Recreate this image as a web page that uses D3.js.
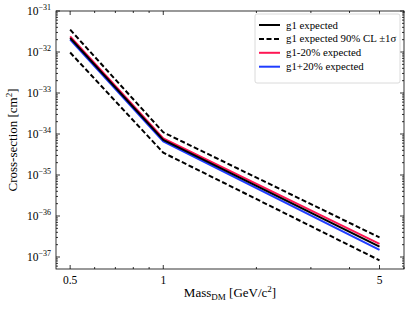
<!DOCTYPE html>
<html>
<head>
<meta charset="utf-8">
<script src="https://cdn.jsdelivr.net/npm/d3@7"></script>
<style>
body { margin: 0; background: #fff; }
text { font-family: "Liberation Serif", "DejaVu Serif", serif; fill: #000; }
</style>
</head>
<body>
<svg id="chart" width="411" height="309"></svg>
<script>
var masses = [0.5, 1, 5];
var g1Expected = [2.2e-32, 7.2e-35, 1.8e-37];
var g1Upper = [3.5e-32, 1.1e-34, 3.0e-37];
var g1Lower = [9.7e-33, 3.5e-35, 8.3e-38];
var g1Minus20 = [2.4e-32, 7.8e-35, 2.1e-37];
var g1Plus20 = [2.0e-32, 6.6e-35, 1.5e-37];
var xTicks = [0.5, 1, 5];
var yTicks = [-31, -32, -33, -34, -35, -36, -37];

var svg = d3.select("#chart");
var plotLeft = 56, plotRight = 404, plotTop = 11, plotBottom = 269;

var x = d3.scaleLog().domain([0.45, 6.0]).range([plotLeft, plotRight]);
var y = d3.scaleLog().domain([5.1e-38, 1e-31]).range([plotBottom, plotTop]);

// minor ticks
var xMinor = [0.6, 0.7, 0.8, 0.9, 2, 3, 4, 6];
var yMinor = [];
for (var e = -38; e < -31; e++) {
	for (var k = 2; k < 10; k++) {
		var v = k * Math.pow(10, e);
		if (v >= 5.1e-38 && v <= 1e-31) yMinor.push(v);
	}
}

var ticks = svg.append("g").attr("stroke", "#000").attr("stroke-width", 0.8);
xTicks.forEach(function(t) {
	ticks.append("line").attr("x1", x(t)).attr("x2", x(t)).attr("y1", plotBottom).attr("y2", plotBottom - 4);
	ticks.append("line").attr("x1", x(t)).attr("x2", x(t)).attr("y1", plotTop).attr("y2", plotTop + 4);
});
xMinor.forEach(function(t) {
	ticks.append("line").attr("x1", x(t)).attr("x2", x(t)).attr("y1", plotBottom).attr("y2", plotBottom - 2);
	ticks.append("line").attr("x1", x(t)).attr("x2", x(t)).attr("y1", plotTop).attr("y2", plotTop + 2);
});
yTicks.forEach(function(t) {
	var v = Math.pow(10, t);
	ticks.append("line").attr("x1", plotLeft).attr("x2", plotLeft + 4).attr("y1", y(v)).attr("y2", y(v));
	ticks.append("line").attr("x1", plotRight).attr("x2", plotRight - 4).attr("y1", y(v)).attr("y2", y(v));
});
yMinor.forEach(function(v) {
	ticks.append("line").attr("x1", plotLeft).attr("x2", plotLeft + 2).attr("y1", y(v)).attr("y2", y(v));
	ticks.append("line").attr("x1", plotRight).attr("x2", plotRight - 2).attr("y1", y(v)).attr("y2", y(v));
});

// tick labels
xTicks.forEach(function(t) {
	svg.append("text").attr("x", x(t)).attr("y", plotBottom + 15)
		.attr("text-anchor", "middle").attr("font-size", 11.5).text(t);
});
yTicks.forEach(function(t) {
	var lab = svg.append("text").attr("x", 51).attr("y", y(Math.pow(10, t)) + 4)
		.attr("text-anchor", "end").attr("font-size", 11.5);
	lab.append("tspan").text("10");
	lab.append("tspan").attr("dy", -5).attr("font-size", 8).text("\u2212" + (-t));
});

// lines
var line = d3.line()
	.x(function(d) { return x(d[0]); })
	.y(function(d) { return y(d[1]); });

function series(vals) {
	return masses.map(function(m, i) { return [m, vals[i]]; });
}

var lines = [
	{ vals: g1Upper, color: "#000", dash: "5,2.5" },
	{ vals: g1Lower, color: "#000", dash: "5,2.5" },
	{ vals: g1Plus20, color: "#1f3cff", dash: null },
	{ vals: g1Minus20, color: "#ff1654", dash: null },
	{ vals: g1Expected, color: "#000", dash: null }
];
lines.forEach(function(l) {
	svg.append("path").datum(series(l.vals))
		.attr("d", line)
		.attr("fill", "none")
		.attr("stroke", l.color)
		.attr("stroke-width", 2)
		.attr("stroke-dasharray", l.dash);
});

// frame
svg.append("rect").attr("x", plotLeft).attr("y", plotTop)
	.attr("width", plotRight - plotLeft).attr("height", plotBottom - plotTop)
	.attr("fill", "none").attr("stroke", "#000").attr("stroke-width", 0.8);

// legend
var legendItems = [
	{ name: "g1 expected", color: "#000", dash: null },
	{ name: "g1 expected 90% CL \u00b11\u03c3", color: "#000", dash: "5,2.5" },
	{ name: "g1-20% expected", color: "#ff1654", dash: null },
	{ name: "g1+20% expected", color: "#1f3cff", dash: null }
];
svg.append("rect").attr("x", 255).attr("y", 14).attr("width", 145).attr("height", 69)
	.attr("rx", 2).attr("fill", "#fff").attr("fill-opacity", 0.8)
	.attr("stroke", "#d0d0d0").attr("stroke-width", 0.8);
legendItems.forEach(function(d, i) {
	var ly = 25 + i * 13.9;
	svg.append("line").attr("x1", 259).attr("x2", 280).attr("y1", ly).attr("y2", ly)
		.attr("stroke", d.color).attr("stroke-width", 2).attr("stroke-dasharray", d.dash);
	svg.append("text").attr("x", 286).attr("y", ly + 3.5).attr("font-size", 10.8).text(d.name);
});

// axis labels
var xl = svg.append("text").attr("x", (plotLeft + plotRight) / 2).attr("y", 297)
	.attr("text-anchor", "middle").attr("font-size", 13);
xl.append("tspan").text("Mass");
xl.append("tspan").attr("dy", 3).attr("font-size", 9).text("DM");
xl.append("tspan").attr("dy", -3).text(" [GeV/c");
xl.append("tspan").attr("dy", -5).attr("font-size", 9).text("2");
xl.append("tspan").attr("dy", 5).text("]");

var yl = svg.append("text").attr("transform", "translate(17," + ((plotTop + plotBottom) / 2) + ")rotate(-90)")
	.attr("text-anchor", "middle").attr("font-size", 13);
yl.append("tspan").text("Cross-section [cm");
yl.append("tspan").attr("dy", -5).attr("font-size", 9).text("2");
yl.append("tspan").attr("dy", 5).text("]");
</script>
</body>
</html>
